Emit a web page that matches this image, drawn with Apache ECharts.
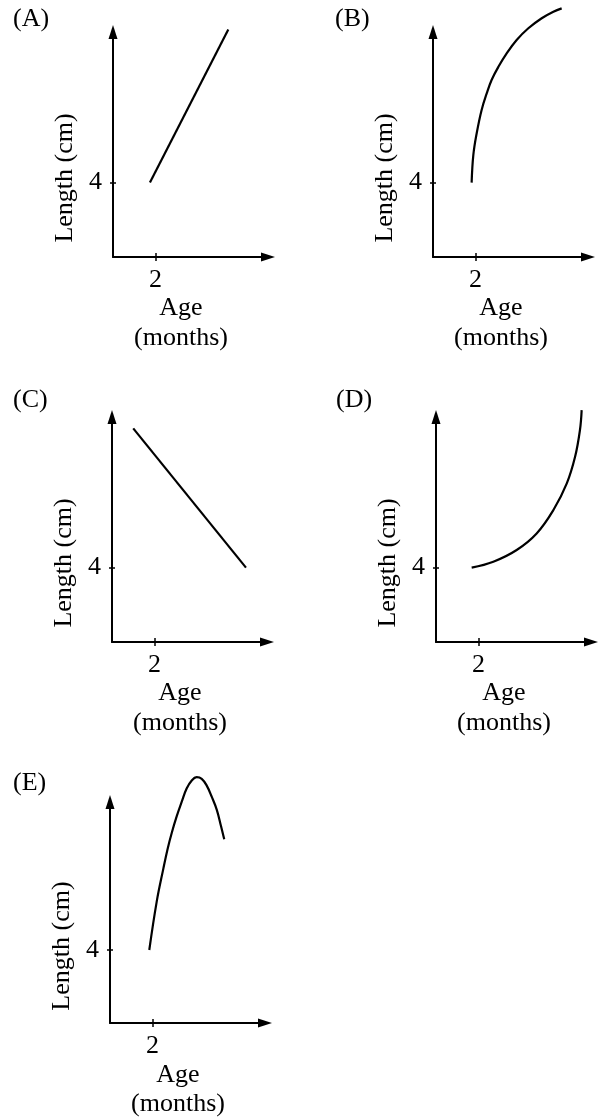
<!DOCTYPE html>
<html>
<head>
<meta charset="utf-8">
<style>
  html, body { margin: 0; padding: 0; background: #fff; }
  #chart { width: 604px; height: 1120px; }
</style>
<script src="https://cdn.jsdelivr.net/npm/echarts@6/dist/echarts.min.js"></script>
</head>
<body>
<div id="chart"></div>
<script>
// Panel captions and axis text
const panelLabels = ['(A)', '(B)', '(C)', '(D)', '(E)'];
const xAxisTitle = 'Age\n(months)';
const yAxisTitle = 'Length (cm)';
const xTickValues = [2];   // age tick (months)
const yTickValues = [4];   // length tick (cm)

// Growth curves: [age (months), length (cm)]
const curveA = [[1.74, 4], [5.43, 12.24]];
const curveB = [[1.82, 4], [1.9, 5.49], [2.06, 6.67], [2.29, 7.91], [2.53, 8.8],
                [2.76, 9.52], [3.08, 10.23], [3.47, 10.95], [3.94, 11.67], [4.49, 12.3],
                [5.12, 12.84], [5.67, 13.19], [6.06, 13.37]];
const curveC = [[1.0, 11.49], [6.31, 4]];
const curveD = [[1.68, 4], [2.7, 4.32], [3.8, 4.95], [4.74, 5.84], [5.53, 7.1],
                [6.16, 8.53], [6.55, 9.96], [6.78, 11.4], [6.86, 12.47]];
const curveE = [[1.85, 4], [2.2, 6.65], [2.51, 8.44], [2.71, 9.52], [2.91, 10.42],
                [3.14, 11.31], [3.38, 12.12], [3.61, 12.84], [3.85, 13.28], [4.08, 13.46],
                [4.32, 13.37], [4.55, 13.01], [4.79, 12.39], [5.03, 11.67], [5.23, 10.77],
                [5.38, 10.06]];
const curves = [curveA, curveB, curveC, curveD, curveE];

// Axis extents shared by all panels
const xMax = 7.3;
const yMax = 12.1;

// Panel placement (plot corner, pixels) and caption spots
const panelBoxes = [
  { left: 113, top: 32 },
  { left: 433, top: 32 },
  { left: 112, top: 417 },
  { left: 436, top: 417 },
  { left: 110, top: 802 }
];
const captionSpots = [[13, 19.5], [335, 19], [13, 400], [336, 400], [13, 783]];
const plotW = 155, plotH = 225;

const FONT = '"Liberation Serif", "Times New Roman", serif';
const INK = '#000';
const FS = 26;

const grids = [], xAxes = [], yAxes = [], series = [];

panelBoxes.forEach((box, i) => {
  grids.push({ left: box.left, top: box.top, width: plotW, height: plotH, containLabel: false });

  // main age axis: line with arrow, outward tick, tick label and title
  xAxes.push({
    gridIndex: i, type: 'value', position: 'bottom', min: 0, max: xMax,
    axisLine: { show: true, onZero: false, symbol: ['none', 'triangle'], symbolSize: [9, 14],
                lineStyle: { color: INK, width: 2 } },
    axisTick: { show: true, customValues: xTickValues, length: 4, lineStyle: { color: INK, width: 1.5 } },
    axisLabel: { show: true, customValues: xTickValues, margin: 10, color: INK,
                 fontFamily: FONT, fontSize: FS },
    splitLine: { show: false },
    name: xAxisTitle, nameLocation: 'middle', nameGap: 30,
    nameTextStyle: { color: INK, fontFamily: FONT, fontSize: FS, lineHeight: 29.5,
                     padding: [0, 19, 0, 0] }
  });
  // companion age axis: inward half of the tick
  xAxes.push({
    gridIndex: i, type: 'value', position: 'bottom', min: 0, max: xMax,
    axisLine: { show: false, onZero: false },
    axisTick: { show: true, inside: true, customValues: xTickValues, length: 4,
                lineStyle: { color: INK, width: 1.5 } },
    axisLabel: { show: false }, splitLine: { show: false }
  });

  // main length axis
  yAxes.push({
    gridIndex: i, type: 'value', position: 'left', min: 0, max: yMax,
    axisLine: { show: true, onZero: false, symbol: ['none', 'triangle'], symbolSize: [9, 14],
                lineStyle: { color: INK, width: 2 } },
    axisTick: { show: true, customValues: yTickValues, length: 3, lineStyle: { color: INK, width: 1.5 } },
    axisLabel: { show: true, customValues: yTickValues, margin: 11, color: INK,
                 fontFamily: FONT, fontSize: FS },
    splitLine: { show: false },
    name: yAxisTitle, nameLocation: 'middle', nameGap: 35,
    nameTextStyle: { color: INK, fontFamily: FONT, fontSize: FS, padding: [0, 67, 0, 0] }
  });
  // companion length axis: inward half of the tick
  yAxes.push({
    gridIndex: i, type: 'value', position: 'left', min: 0, max: yMax,
    axisLine: { show: false, onZero: false },
    axisTick: { show: true, inside: true, customValues: yTickValues, length: 3,
                lineStyle: { color: INK, width: 1.5 } },
    axisLabel: { show: false }, splitLine: { show: false }
  });

  series.push({
    type: 'line', xAxisIndex: i * 2, yAxisIndex: i * 2,
    data: curves[i], showSymbol: false, smooth: curves[i].length > 2 ? 0.4 : false,
    clip: false, silent: true,
    lineStyle: { color: INK, width: 2.2 }
  });
});

const chart = echarts.init(document.getElementById('chart'), null, { renderer: 'canvas' });
chart.setOption({
  animation: false,
  backgroundColor: '#fff',
  grid: grids,
  xAxis: xAxes,
  yAxis: yAxes,
  series: series,
  graphic: panelLabels.map((t, i) => ({
    type: 'text', x: captionSpots[i][0], y: captionSpots[i][1],
    style: { text: t, fill: INK, fontFamily: FONT, fontSize: FS, align: 'left', verticalAlign: 'middle' }
  }))
});
</script>
</body>
</html>
